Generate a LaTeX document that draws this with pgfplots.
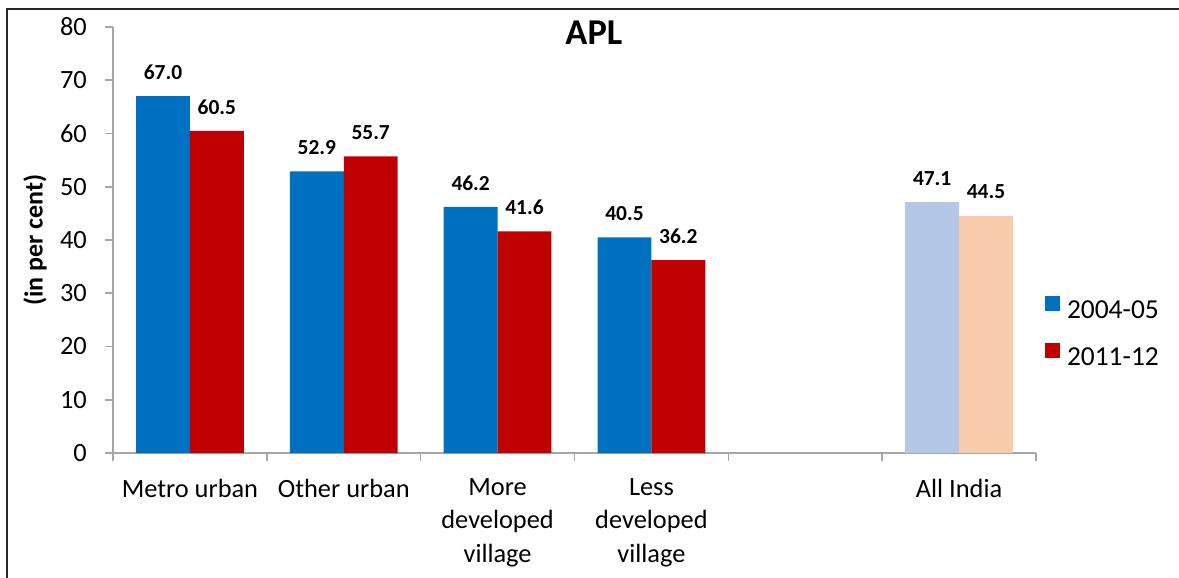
\documentclass[border=0pt]{standalone}
\usepackage{fontspec}
\setmainfont{Carlito}
\usepackage{pgfplots}
\pgfplotsset{compat=1.18}
\definecolor{cblue}{HTML}{0070C0}
\definecolor{cred}{HTML}{C00000}
\definecolor{lblue}{HTML}{B4C7E7}
\definecolor{lpeach}{HTML}{F8CBAD}
\definecolor{axgray}{HTML}{A6A6A6}
\pgfplotsset{sqleg/.style={legend image code/.code={\fill[##1] (0cm,0cm) rectangle (0.3cm,0.3cm);}}}
\begin{document}
\begin{tikzpicture}
\begin{axis}[
  at={(0,0)}, anchor=south west,
  scale only axis,
  width=18.46cm, height=8.52cm,
  xmin=-0.5, xmax=5.5,
  ymin=0, ymax=80,
  ytick={0,10,...,80},
  axis x line*=bottom, axis y line*=left,
  axis line style={draw=axgray, line width=0.9pt},
  every tick/.style={draw=axgray, line width=0.9pt},
  tick align=outside,
  major tick length=0.16cm,
  xtick={-0.5,0.5,...,5.5},
  xticklabels={},
  extra x ticks={0,1,2,3,4,5},
  extra x tick labels={Metro urban,Other urban,More\\developed\\village,Less\\developed\\village,{},All India},
  extra x tick style={major tick length=0pt,
     xticklabel style={align=center, anchor=north, yshift=-0.39cm,
       font=\fontsize{15}{18.9}\selectfont}},
  yticklabel style={font=\fontsize{15}{17}\selectfont, anchor=east, xshift=-0.24cm},
  /pgf/number format/assume math mode=true,
  ylabel={(in per cent)},
  ylabel style={at={(axis description cs:-0.0845,0.5)}, anchor=center,
     font=\bfseries\fontsize{14.8}{17}\selectfont},
  title={APL},
  title style={at={(axis description cs:0.521,0.962)}, anchor=center,
     font=\bfseries\fontsize{20.7}{24}\selectfont},
  ybar, bar width=0.35,
  nodes near coords,
  every node near coord/.append style={anchor=center, yshift=0.48cm,
     font=\bfseries\fontsize{12.2}{14}\selectfont, text=black,
     /pgf/number format/fixed, /pgf/number format/fixed zerofill,
     /pgf/number format/precision=1, /pgf/number format/assume math mode=true},
  legend style={draw=none, fill=none, inner sep=0pt, outer sep=0pt,
     at={(axis description cs:1.0098,0.284)}, anchor=west,
     row sep=0.44cm, column sep=0.14cm,
     nodes={inner sep=0pt},
     font=\fontsize{15.6}{17}\selectfont},
  legend cell align=left,
]
\addplot[fill=cblue, draw=none, bar shift=-0.175, sqleg]
  coordinates {(0,67.0) (1,52.9) (2,46.2) (3,40.5)};
\addlegendentry{2004-05}
\addplot[fill=cred, draw=none, bar shift=0.175, sqleg]
  coordinates {(0,60.5) (1,55.7) (2,41.6) (3,36.2)};
\addlegendentry{2011-12}
\addplot[fill=lblue, draw=none, bar shift=-0.175, forget plot]
  coordinates {(5,47.1)};
\addplot[fill=lpeach, draw=none, bar shift=0.175, forget plot]
  coordinates {(5,44.5)};
\end{axis}
\draw[line width=0.04cm, black!85] (-2.12,-2.6) -- (-2.12,8.88) -- (21.5,8.88);
\pgfresetboundingbox
\path[use as bounding box] (-2.26,-2.48) rectangle (21.32,9.06);
\end{tikzpicture}
\end{document}
